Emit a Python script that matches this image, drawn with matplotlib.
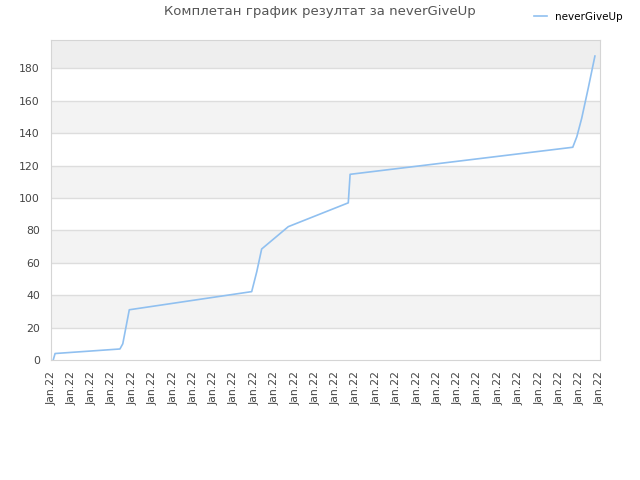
import numpy as np
import matplotlib
matplotlib.use('Agg')
import matplotlib.pyplot as plt

# data (x in tick units, 0..27)
xs = [0.11, 0.2, 3.39, 3.53, 3.85, 9.87, 10.12, 10.36, 11.67, 14.62, 14.71,
      25.66, 25.86, 26.1, 26.42, 26.75]
ys = [0, 4, 6.8, 10, 31, 42.2, 54.5, 68.5, 82.3, 97, 114.6,
      131.3, 137.8, 149.2, 167.7, 187.6]
tick_labels = ['Jan.22'] * 28
yticks = [0, 20, 40, 60, 80, 100, 120, 140, 160, 180]

title = 'Комплетан график резултат за neverGiveUp'
series = 'neverGiveUp'

fig = plt.figure(figsize=(6.4, 4.8), dpi=100)
ax = fig.add_axes([51/640, 120/480, 549/640, 320/480])

ymax = 197.5
# alternating bands
for lo in range(20, 180, 40):
    ax.axhspan(lo, lo + 20, color='#f3f3f3', zorder=0, lw=0)
ax.axhspan(180, ymax, color='#eeeeee', zorder=0, lw=0)
for t in yticks[1:]:
    ax.axhline(t, color='#dddddd', lw=1, zorder=1)

ax.plot(xs, ys, color='#90c0f0', lw=1.2, zorder=2, label=series)

ax.set_xlim(0, 27)
ax.set_ylim(0, ymax)
ax.set_xticks(range(28))
ax.set_xticklabels(tick_labels, rotation=90, fontsize=7.8, color='#444444')
ax.set_yticks(yticks)
ax.set_yticklabels([str(v) for v in yticks], fontsize=7.8, color='#444444')
ax.tick_params(axis='y', length=0, pad=8)
ax.tick_params(axis='x', length=0, pad=8)
for s in ax.spines.values():
    s.set_color('#d5d5d5')

fig.text(0.5, 1 - 12/480, title, ha='center', va='center', fontsize=9.5, color='#555555')
fig.legend(loc='upper right', bbox_to_anchor=(0.988, 0.995), frameon=False,
           fontsize=7.5, handlelength=1.2, handletextpad=0.8)

fig.savefig('out.png', dpi=100)
